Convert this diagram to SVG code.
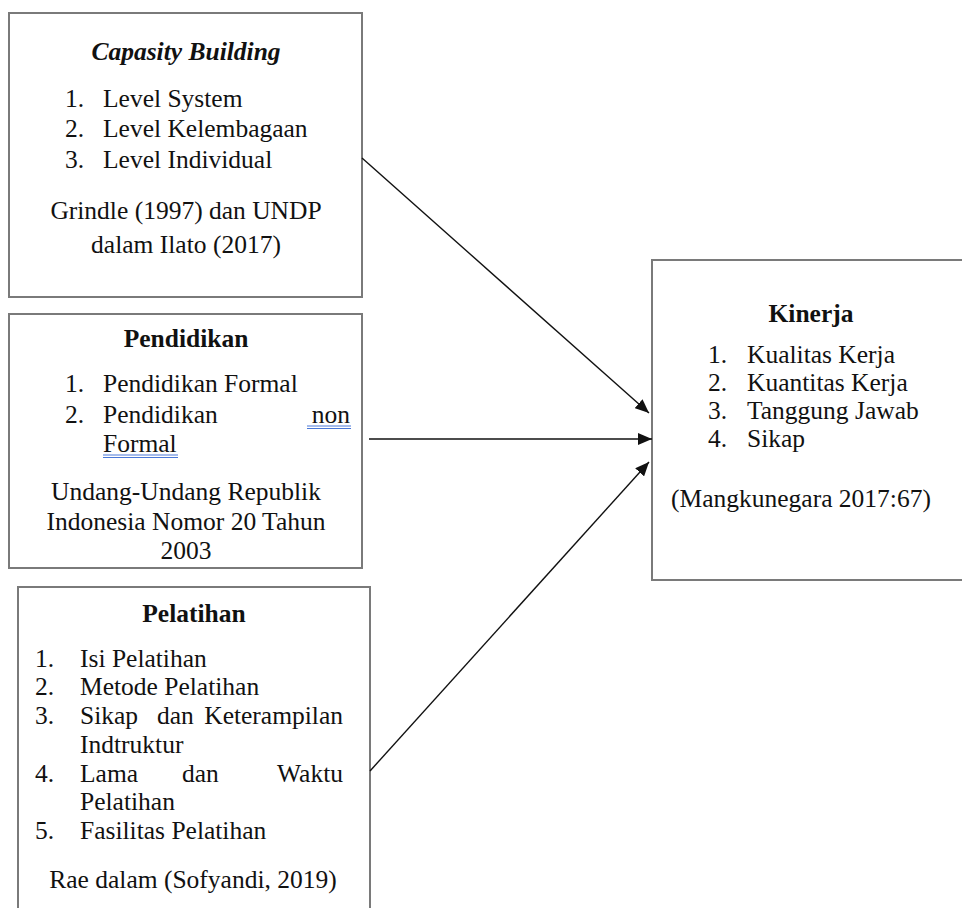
<svg xmlns="http://www.w3.org/2000/svg" width="962" height="908" viewBox="0 0 962 908">
<style>
text{font-family:"Liberation Serif","Times New Roman",serif;font-size:25.5px;fill:#111}
.c{text-anchor:middle}
.e{text-anchor:end}
.b{font-weight:bold}
.bi{font-weight:bold;font-style:italic}
.box{fill:#fff;stroke:#7a7a7a;stroke-width:2}
.con{stroke:#111;stroke-width:1.4;fill:none;marker-end:url(#ah)}
.ul{stroke:#4a78d8;stroke-width:1}
</style>
<defs>
<marker id="ah" markerUnits="userSpaceOnUse" markerWidth="16" markerHeight="12" refX="14" refY="6" orient="auto">
<path d="M0,0 L14,6 L0,12 Z" fill="#111"/>
</marker>
</defs>
<rect width="962" height="908" fill="#fff"/>
<g id="capacity">
<rect class="box" x="9" y="13" width="353" height="284"/>
<text class="bi c" x="186" y="60">Capasity Building</text>
<text x="65" y="107">1.</text><text x="103" y="107">Level System</text>
<text x="65" y="137">2.</text><text x="103" y="137">Level Kelembagaan</text>
<text x="65" y="168">3.</text><text x="103" y="168">Level Individual</text>
<text class="c" x="186" y="219">Grindle (1997) dan UNDP</text>
<text class="c" x="186" y="253">dalam Ilato (2017)</text>
</g>
<g id="pendidikan">
<rect class="box" x="9" y="314" width="353" height="254"/>
<text class="b c" x="186" y="347">Pendidikan</text>
<text x="65" y="392">1.</text><text x="103" y="392">Pendidikan Formal</text>
<text x="65" y="423">2.</text><text x="103" y="423">Pendidikan</text><text class="e" x="350" y="423">non</text>
<line class="ul" x1="307" y1="426" x2="351" y2="426"/><line class="ul" x1="307" y1="428.5" x2="351" y2="428.5"/>
<text x="103" y="452">Formal</text>
<line class="ul" x1="103" y1="455" x2="178" y2="455"/><line class="ul" x1="103" y1="457.5" x2="178" y2="457.5"/>
<text class="c" x="186" y="500">Undang-Undang Republik</text>
<text class="c" x="186" y="530">Indonesia Nomor 20 Tahun</text>
<text class="c" x="186" y="559">2003</text>
</g>
<g id="pelatihan">
<rect class="box" x="18" y="587" width="352" height="340"/>
<text class="b c" x="194" y="622">Pelatihan</text>
<text x="35" y="667">1.</text><text x="80" y="667">Isi Pelatihan</text>
<text x="35" y="695">2.</text><text x="80" y="695">Metode Pelatihan</text>
<text x="35" y="724">3.</text><text x="80" y="724">Sikap</text><text x="157" y="724">dan</text><text class="e" x="343" y="724">Keterampilan</text>
<text x="80" y="753">Indtruktur</text>
<text x="35" y="782">4.</text><text x="80" y="782">Lama</text><text x="182" y="782">dan</text><text class="e" x="343" y="782">Waktu</text>
<text x="80" y="810">Pelatihan</text>
<text x="35" y="839">5.</text><text x="80" y="839">Fasilitas Pelatihan</text>
<text class="c" x="193" y="888">Rae dalam (Sofyandi, 2019)</text>
</g>
<g id="kinerja">
<rect class="box" x="652" y="260" width="320" height="320"/>
<text class="b c" x="811" y="322">Kinerja</text>
<text x="708" y="363">1.</text><text x="747" y="363">Kualitas Kerja</text>
<text x="708" y="391">2.</text><text x="747" y="391">Kuantitas Kerja</text>
<text x="708" y="419">3.</text><text x="747" y="419">Tanggung Jawab</text>
<text x="708" y="447">4.</text><text x="747" y="447">Sikap</text>
<text class="c" x="801" y="507">(Mangkunegara 2017:67)</text>
</g>
<g id="connectors">
<line class="con" x1="362" y1="158" x2="649" y2="413"/>
<line class="con" x1="369" y1="439" x2="652" y2="439"/>
<line class="con" x1="370" y1="771" x2="649" y2="462"/>
</g>
</svg>
